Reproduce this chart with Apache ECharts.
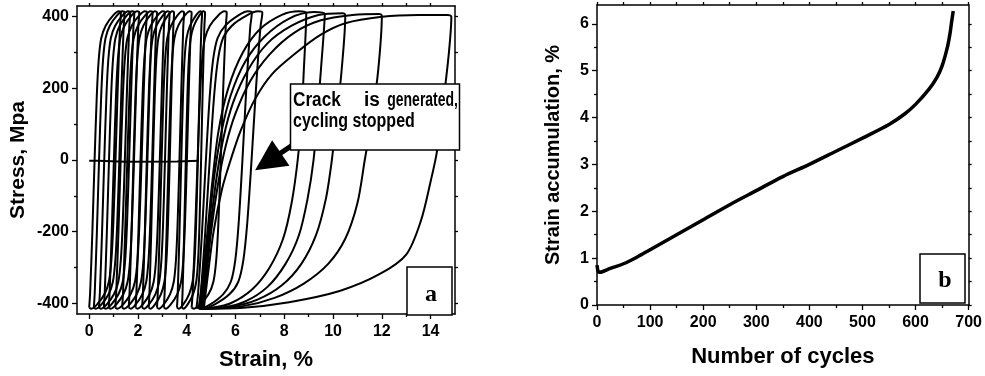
<!DOCTYPE html>
<html>
<head>
<meta charset="utf-8">
<script src="https://cdn.jsdelivr.net/npm/echarts@6/dist/echarts.min.js"></script>
<style>
  html, body { margin: 0; padding: 0; background: #fff; }
  #main { width: 985px; height: 376px; }
</style>
</head>
<body>
<div id="main"></div>
<script>
// ---------- panel a : stress-strain loops ----------
// corners of the narrow loops (strain %, bottom-left / top-right)
var denseLeft  = [0, 0.19, 0.4, 0.6, 0.8, 1.07, 1.35, 1.62, 1.9, 2.17, 2.44, 2.78, 3.06, 3.6, 3.8, 4.2, 4.4, 4.5];
var denseRight = [1.3, 1.45, 1.68, 1.85, 2.05, 2.37, 2.6, 2.78, 3.1, 3.3, 3.48, 3.89, 4.2, 4.63, 4.75, 5.64, 6.67, 7.1];
// shape of the first loop's loading branch (fraction of loop width, stress MPa)
var loopShapeU = [0, 0.03, 0.1, 0.17, 0.24, 0.3, 0.38, 0.52, 0.75, 0.93, 1];
var loopShapeS = [-412, -370, -200, 0, 180, 280, 340, 375, 403, 415, 412];

// wide loops read point by point: loading (up) and unloading (down) branches
var loopA_up   = [[4.5,-415],[4.65,-330],[4.85,-200],[5.05,-60],[5.3,80],[5.7,200],[6.3,300],[7.0,365],[7.9,405],[8.6,415],[8.9,410]];
var loopA_down = [[8.9,410],[8.8,250],[8.7,120],[8.55,0],[8.3,-120],[7.95,-220],[7.4,-300],[6.7,-360],[5.8,-400],[5.0,-413],[4.5,-415]];
var loopB_up   = [[4.55,-415],[4.7,-330],[4.9,-200],[5.1,-60],[5.4,70],[5.8,180],[6.4,275],[7.2,345],[8.2,395],[9.2,413],[9.66,408]];
var loopB_down = [[9.66,408],[9.5,250],[9.35,120],[9.2,0],[8.95,-110],[8.6,-210],[8.05,-290],[7.3,-355],[6.4,-395],[5.5,-412],[4.55,-415]];
var loopC_up   = [[4.6,-415],[4.75,-330],[4.95,-200],[5.2,-60],[5.5,60],[5.9,160],[6.5,250],[7.3,325],[8.3,375],[9.4,405],[10.4,410],[10.5,404]];
var loopC_down = [[10.5,404],[10.35,250],[10.15,120],[9.95,0],[9.7,-110],[9.3,-210],[8.7,-290],[7.9,-350],[6.9,-390],[5.8,-410],[4.6,-415]];
var loopD_up   = [[4.65,-415],[4.8,-330],[5.0,-200],[5.3,-60],[5.6,40],[6.0,130],[6.6,220],[7.4,295],[8.4,355],[9.5,390],[10.8,405],[11.9,408],[12.0,402]];
var loopD_down = [[12.0,402],[11.85,250],[11.6,120],[11.3,0],[11.0,-120],[10.5,-220],[9.8,-290],[8.8,-345],[7.6,-385],[6.3,-408],[4.65,-415]];
var loopE_up   = [[4.7,-415],[4.85,-330],[5.1,-200],[5.45,-80],[5.8,0],[6.2,80],[6.8,170],[7.5,240],[8.5,300],[9.5,350],[10.5,382],[12,400],[13.5,405],[14.7,405],[14.85,400]];
var loopE_down = [[14.85,400],[14.75,300],[14.5,150],[14.25,20],[14.0,-60],[13.6,-170],[13.0,-264],[11.9,-319],[10.3,-365],[8.2,-397],[6.2,-413],[4.7,-415]];
// short segments sitting at zero stress
var zeroLine = [[0,-2],[0.35,-2],[0.4,-6],[1.5,-5],[3.6,-4],[4.5,-2]];

var strainTicks = [0, 2, 4, 6, 8, 10, 12, 14];
var strainMinor = [1, 3, 5, 7, 9, 11, 13];
var stressTicks = [-400, -200, 0, 200, 400];
var stressMinor = [-300, -100, 100, 300];

// ---------- panel b : strain accumulation ----------
var cycles = [0, 2, 4, 10, 25, 50, 75, 100, 150, 200, 250, 300, 350, 400, 450, 500, 550, 580, 600, 625, 640, 650, 660, 665, 668, 671];
var accum  = [0.85, 0.72, 0.7, 0.71, 0.78, 0.88, 1.02, 1.18, 1.5, 1.82, 2.14, 2.44, 2.74, 3.0, 3.28, 3.56, 3.85, 4.08, 4.28, 4.6, 4.85, 5.1, 5.5, 5.8, 6.05, 6.27];
var cycleTicks = [0, 100, 200, 300, 400, 500, 600, 700];
var cycleMinor = [50, 150, 250, 350, 450, 550, 650];
var accTicks = [0, 1, 2, 3, 4, 5, 6];
var accMinor = [0.5, 1.5, 2.5, 3.5, 4.5, 5.5];

var FONT = '"Liberation Sans", Arial, sans-serif';

function denseLoop(L, R) {
  var W = R - L, pts = [];
  for (var i = 0; i < loopShapeU.length; i++) pts.push([L + loopShapeU[i] * W, loopShapeS[i]]);
  // unloading branch mirrors loading branch through loop centre
  for (var j = 1; j < loopShapeU.length; j++) pts.push([R - loopShapeU[j] * W, -loopShapeS[j]]);
  return pts;
}

function axis(o) {
  var a = {
    type: 'value', gridIndex: o.grid, position: o.pos, min: o.min, max: o.max,
    axisLine: { show: !!o.line, onZero: false, lineStyle: { color: '#000', width: 1.5 } },
    axisTick: { show: !!o.ticks, customValues: o.ticks, length: o.tickLen || 5, inside: false,
                lineStyle: { color: '#000', width: 1.3 } },
    axisLabel: { show: !!o.labels, customValues: o.labels, color: '#000', fontSize: 16,
                 fontWeight: 'bold', fontFamily: FONT, margin: o.margin || 8 },
    splitLine: { show: false }
  };
  if (o.name) {
    a.name = o.name; a.nameLocation = 'middle'; a.nameGap = o.gap;
    a.nameTextStyle = { color: '#000', fontSize: o.nameSize, fontWeight: 'bold', fontFamily: FONT };
  }
  return a;
}

var chart = echarts.init(document.getElementById('main'), null, { renderer: 'canvas' });

var series = [];
function loopSeries(data) {
  series.push({
    type: 'line', xAxisIndex: 0, yAxisIndex: 0, data: data, showSymbol: false, smooth: 0.3,
    lineStyle: { color: '#000', width: 2 }, silent: true, z: 3
  });
}
for (var k = 0; k < denseLeft.length; k++) loopSeries(denseLoop(denseLeft[k], denseRight[k]));
loopSeries(loopA_up.concat(loopA_down));
loopSeries(loopB_up.concat(loopB_down));
loopSeries(loopC_up.concat(loopC_down));
loopSeries(loopD_up.concat(loopD_down));
loopSeries(loopE_up.concat(loopE_down));
series.push({
  type: 'line', xAxisIndex: 0, yAxisIndex: 0, data: zeroLine, showSymbol: false,
  lineStyle: { color: '#000', width: 2 }, silent: true,
  markLine: {
    silent: true, symbol: ['none', 'triangle'], symbolSize: 31,
    label: { show: false },
    lineStyle: { color: '#000', width: 5, type: 'solid' },
    data: [[{ coord: [8.29, 39.5] }, { coord: [7.33, -4.7] }]]
  }
});
series.push({
  type: 'line', xAxisIndex: 3, yAxisIndex: 3,
  data: cycles.map(function (c, i) { return [c, accum[i]]; }),
  showSymbol: false, smooth: 0.3, lineStyle: { color: '#000', width: 3.5 }, silent: true
});

function word(txt, x, y, align, sx) {
  return { type: 'text', x: x, y: y, scaleX: sx, z: 21,
    style: { text: txt, font: 'bold 20px ' + FONT, fill: '#000', textAlign: align, textVerticalAlign: 'middle' } };
}

var option = {
  animation: false,
  backgroundColor: '#fff',
  grid: [
    { left: 77, top: 6, width: 378, height: 311 },
    { left: 597, top: 5, width: 372, height: 300 }
  ],
  xAxis: [
    axis({ grid: 0, pos: 'bottom', min: -0.5, max: 15, line: true, ticks: strainTicks, labels: strainTicks,
           margin: 10, name: 'Strain, %', gap: 35, nameSize: 22 }),
    axis({ grid: 0, pos: 'bottom', min: -0.5, max: 15, ticks: strainMinor, tickLen: 3 }),
    axis({ grid: 0, pos: 'top', min: -0.5, max: 15, line: true, ticks: strainTicks.concat(strainMinor), tickLen: 3 }),
    axis({ grid: 1, pos: 'bottom', min: 0, max: 700, line: true, ticks: cycleTicks, labels: cycleTicks,
           margin: 10, name: 'Number of cycles', gap: 41, nameSize: 22 }),
    axis({ grid: 1, pos: 'bottom', min: 0, max: 700, ticks: cycleMinor, tickLen: 3 }),
    axis({ grid: 1, pos: 'top', min: 0, max: 700, line: true, ticks: cycleTicks.concat(cycleMinor), tickLen: 3 })
  ],
  yAxis: [
    axis({ grid: 0, pos: 'left', min: -430, max: 430, line: true, ticks: stressTicks, labels: stressTicks,
           name: 'Stress, Mpa', gap: 48, nameSize: 21 }),
    axis({ grid: 0, pos: 'left', min: -430, max: 430, ticks: stressMinor, tickLen: 3 }),
    axis({ grid: 0, pos: 'right', min: -430, max: 430, line: true, ticks: stressTicks.concat(stressMinor), tickLen: 3 }),
    axis({ grid: 1, pos: 'left', min: 0, max: 6.4, line: true, ticks: accTicks, labels: accTicks,
           name: 'Strain accumulation, %', gap: 34, nameSize: 20 }),
    axis({ grid: 1, pos: 'left', min: 0, max: 6.4, ticks: accMinor, tickLen: 3 }),
    axis({ grid: 1, pos: 'right', min: 0, max: 6.4, line: true, ticks: accTicks.concat(accMinor), tickLen: 3 })
  ],
  series: series,
  graphic: [
    // annotation box
    { type: 'rect', shape: { x: 290.5, y: 84, width: 169, height: 66 }, z: 20,
      style: { fill: '#fff', stroke: '#000', lineWidth: 1.5 } },
    word('Crack', 293, 100, 'left', 0.86),
    word('is', 364, 100, 'left', 0.95),
    word('generated,', 458, 100, 'right', 0.7),
    word('cycling stopped', 293, 121, 'left', 0.8),
    // panel letters
    { type: 'rect', shape: { x: 407, y: 267, width: 45, height: 48 }, z: 20,
      style: { fill: '#fff', stroke: '#000', lineWidth: 1.5 } },
    { type: 'text', x: 431, y: 295, z: 21,
      style: { text: 'a', font: 'bold 24px "Liberation Serif", "Times New Roman", serif', fill: '#000',
               textAlign: 'center', textVerticalAlign: 'middle' } },
    { type: 'rect', shape: { x: 920, y: 254, width: 45, height: 49 }, z: 20,
      style: { fill: '#fff', stroke: '#000', lineWidth: 1.5 } },
    { type: 'text', x: 945, y: 281, z: 21,
      style: { text: 'b', font: 'bold 24px "Liberation Serif", "Times New Roman", serif', fill: '#000',
               textAlign: 'center', textVerticalAlign: 'middle' } }
  ]
};

chart.setOption(option);
</script>
</body>
</html>
